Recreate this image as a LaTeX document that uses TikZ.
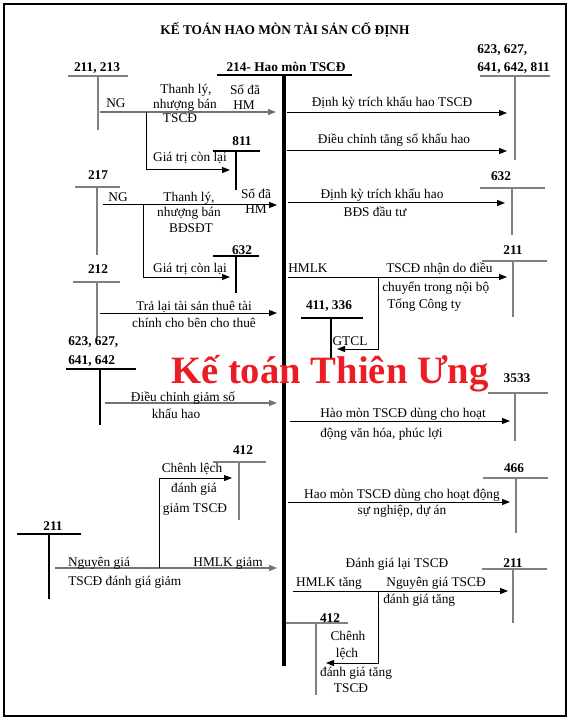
\documentclass[tikz,border=0pt]{standalone}
\usepackage{fontspec}
\setmainfont{Liberation Serif}
\usetikzlibrary{arrows.meta}
\tikzset{>={Triangle[length=6pt,width=4.5pt]}}
\definecolor{wmred}{RGB}{236,28,36}
\tikzset{
  acc/.style={font=\bfseries, inner sep=0pt, anchor=base},
  lbl/.style={inner sep=0pt, anchor=base},
  arrow/.style={->, line width=0.75pt},
  grayarrow/.style={->, line width=0.9pt, draw=black!55},
  tacc/.style={line width=1.1pt, draw=black!50},
  taccdark/.style={line width=0.8pt, draw=black},
}
\begin{document}
\begin{tikzpicture}[x=0.75pt, y=-0.75pt, font=\fontsize{10}{11.5}\selectfont]
\useasboundingbox (0,0) rectangle (570,720);
\draw[line width=2.2pt] (4,4) rectangle (566,716);

% title and main account 214
\node[acc] (title) at (285,35) {KẾ TOÁN HAO MÒN TÀI SẢN CỐ ĐỊNH};
\node[acc] (k214) at (286,72) {214- Hao mòn TSCĐ};
\draw[line width=1.6pt] (217,75) -- (352,75);
\draw[line width=2.3pt] (284,75) -- (284,666);

% accounts (T lines)
\node[acc] (k211a) at (97,72) {211, 213};
\draw[tacc] (68,76) -- (128,76) (98,76) -- (98,130);
\node[acc, anchor=base west] (k623a) at (477,54) {623, 627,};
\node[acc, anchor=base west] (k623a2) at (477,72) {641, 642, 811};
\draw[tacc] (480,76) -- (550,76) (515,76) -- (515,160);
\node[acc] (k811) at (242,146) {811};
\draw[taccdark] (213,151) -- (260,151) (236,151) -- (236,190);
\node[acc] (k217) at (98,180) {217};
\draw[tacc] (75,187) -- (120,187) (97,187) -- (97,255);
\node[acc] (k632a) at (242,254) {632};
\draw[taccdark] (213,256) -- (259,256) (236,256) -- (236,293);
\node[acc] (k212) at (98,273) {212};
\draw[tacc] (73,282) -- (120,282) (97,282) -- (97,337);
\node[acc] (k632b) at (501,181) {632};
\draw[tacc] (480,188) -- (545,188) (512,188) -- (512,235);
\node[acc] (k211b) at (513,254) {211};
\draw[tacc] (482,261) -- (547,261) (513,261) -- (513,317);
\node[acc] (k411) at (329,309) {411, 336};
\draw[taccdark] (301,318) -- (363,318) (331,318) -- (331,358);
\node[acc, anchor=base west] (k623b) at (68,345) {623, 627,};
\node[acc, anchor=base west] (k623b2) at (68,364) {641, 642};
\draw[taccdark] (66,369) -- (136,369) (100,369) -- (100,425);
\node[acc] (k3533) at (517,382) {3533};
\draw[tacc] (488,393) -- (548,393) (515,393) -- (515,441);
\node[acc] (k412a) at (243,454) {412};
\draw[tacc] (213,462) -- (266,462) (239,462) -- (239,520);
\node[acc] (k466) at (514,472) {466};
\draw[tacc] (483,478) -- (548,478) (516,478) -- (516,533);
\node[acc] (k211c) at (53,530) {211};
\draw[taccdark] (17,534) -- (81,534) (49,534) -- (49,599);
\node[acc] (k211d) at (513,567) {211};
\draw[tacc] (482,569) -- (547,569) (513,569) -- (513,623);
\node[acc] (k412b) at (330,622) {412};
\draw[tacc] (286,623) -- (348,623) (316,623) -- (316,695);

% left side: disposal of fixed assets
\coordinate (s1) at (100,112); \coordinate (e1) at (276,112);
\draw[grayarrow] (s1) -- (e1);
\coordinate (b1) at (146,112); \coordinate (g1) at (230,170);
\draw[arrow] (b1) |- (g1);
\node[lbl] (ng1) at (116,108) {NG};
\node[lbl] (tl1a) at (186,94) {Thanh lý,};
\node[lbl] (tl1b) at (185,109) {nhượng bán};
\node[lbl] (tl1c) at (180,123) {TSCĐ};
\node[lbl] (hm1a) at (245,95) {Số đã};
\node[lbl] (hm1b) at (244,110) {HM};
\node[lbl] (gtcl1) at (190,162) {Giá trị còn lại};

% left side: disposal of investment property
\coordinate (s2) at (103,205); \coordinate (e2) at (277,205);
\draw[arrow] (s2) -- (e2);
\coordinate (b2) at (143,205); \coordinate (g2) at (230,277);
\draw[arrow] (b2) |- (g2);
\node[lbl] (ng2) at (118,202) {NG};
\node[lbl] (tl2a) at (189,202) {Thanh lý,};
\node[lbl] (tl2b) at (189,217) {nhượng bán};
\node[lbl] (tl2c) at (191,233) {BĐSĐT};
\node[lbl] (hm2a) at (256,199) {Số đã};
\node[lbl] (hm2b) at (256,214) {HM};
\node[lbl] (gtcl2) at (190,272) {Giá trị còn lại};

% finance lease returned
\coordinate (s3) at (100,313); \coordinate (e3) at (277,313);
\draw[arrow] (s3) -- (e3);
\node[lbl] (tra1) at (194,310) {Trả lại tài sản thuê tài};
\node[lbl] (tra2) at (194,327) {chính cho bên cho thuê};

% depreciation decreased
\coordinate (s4) at (105,403); \coordinate (e4) at (277,403);
\draw[grayarrow] (s4) -- (e4);
\node[lbl] (giam1) at (183,401) {Điều chỉnh giảm số};
\node[lbl] (giam2) at (176,418) {khấu hao};

% revaluation down
\coordinate (s5) at (55,568); \coordinate (e5) at (277,568);
\draw[grayarrow] (s5) -- (e5);
\coordinate (b5) at (159,568); \coordinate (g5) at (232,478);
\draw[arrow] (b5) |- (g5);
\node[lbl] (ngg) at (99,566) {Nguyên giá};
\node[lbl, anchor=base west] (tscdg) at (68,585) {TSCĐ đánh giá giảm};
\node[lbl] (hmlkg) at (228,566) {HMLK giảm};
\node[lbl] (clg1) at (192,472) {Chênh lệch};
\node[lbl] (clg2) at (194,492) {đánh giá};
\node[lbl] (clg3) at (195,512) {giảm TSCĐ};

% right side: depreciation charged
\coordinate (s6) at (287,113); \coordinate (e6) at (507,113);
\draw[arrow] (s6) -- (e6);
\node[lbl] (dk1) at (392,107) {Định kỳ trích khấu hao TSCĐ};
\coordinate (s7) at (287,151); \coordinate (e7) at (507,151);
\draw[arrow] (s7) -- (e7);
\node[lbl] (tang) at (394,144) {Điều chỉnh tăng số khấu hao};
\coordinate (s8) at (288,203); \coordinate (e8) at (505,203);
\draw[arrow] (s8) -- (e8);
\node[lbl] (dk2) at (382,199) {Định kỳ trích khấu hao};
\node[lbl] (bds) at (375,217) {BĐS đầu tư};

% internal transfer
\coordinate (s9) at (288,277); \coordinate (e9) at (507,277);
\draw[arrow] (s9) -- (e9);
\coordinate (b9) at (378,277); \coordinate (g9) at (337,349);
\draw[arrow] (b9) |- (g9);
\node[lbl, anchor=base west] (hmlk) at (288,272) {HMLK};
\node[lbl, anchor=base west] (dc1) at (386,272) {TSCĐ nhận do điều};
\node[lbl, anchor=base west] (dc2) at (382,291) {chuyển trong nội bộ};
\node[lbl, anchor=base west] (dc3) at (387,308) {Tổng Công ty};
\node[lbl] (gtcl3) at (350,345) {GTCL};

% welfare and project assets
\coordinate (s10) at (290,421); \coordinate (e10) at (510,421);
\draw[arrow] (s10) -- (e10);
\node[lbl, anchor=base west] (vh1) at (320,417) {Hào mòn TSCĐ dùng cho hoạt};
\node[lbl, anchor=base west] (vh2) at (320,437) {động văn hóa, phúc lợi};
\coordinate (s11) at (288,502); \coordinate (e11) at (510,502);
\draw[arrow] (s11) -- (e11);
\node[lbl] (sn1) at (402,498) {Hao mòn TSCĐ dùng cho hoạt động};
\node[lbl] (sn2) at (402,514) {sự nghiệp, dự án};

% revaluation up
\node[lbl] (dgl) at (397,567) {Đánh giá lại TSCĐ};
\coordinate (s12) at (293,591); \coordinate (e12) at (508,591);
\draw[arrow] (s12) -- (e12);
\coordinate (b12) at (378,591); \coordinate (g12) at (326,663);
\draw[arrow] (b12) |- (g12);
\node[lbl] (hmlkt) at (329,586) {HMLK tăng};
\node[lbl] (ngt) at (436,586) {Nguyên giá TSCĐ};
\node[lbl, anchor=base west] (dgt) at (383,603) {đánh giá tăng};
\node[lbl] (clt1) at (348,640) {Chênh};
\node[lbl] (clt2) at (347,657) {lệch};
\node[lbl] (clt3) at (356,676) {đánh giá tăng};
\node[lbl] (clt4) at (351,692) {TSCĐ};

% watermark
\node[inner sep=0pt, anchor=base, text=wmred, font=\fontsize{29}{30}\selectfont\bfseries] (wm) at (330,383) {Kế toán Thiên Ưng};
\end{tikzpicture}
\end{document}
